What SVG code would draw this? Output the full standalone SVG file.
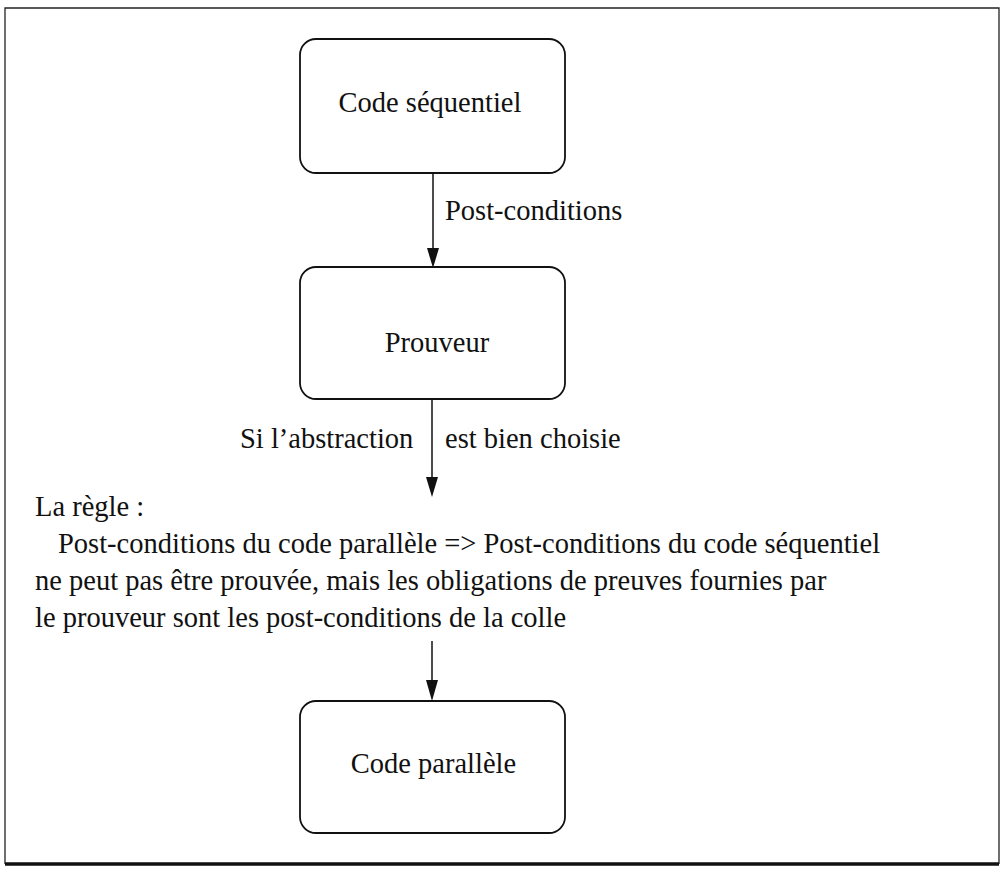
<svg xmlns="http://www.w3.org/2000/svg" width="1001" height="869" viewBox="0 0 1001 869">
<defs>
<style>
.t{font-family:"Liberation Serif","Times New Roman",serif;font-size:28.5px;fill:#111}
.box{fill:#fff;stroke:#111;stroke-width:1.8}
.con{stroke:#111;stroke-width:1.5;fill:none}
.head{fill:#111}
</style>
</defs>
<rect x="0" y="0" width="1001" height="869" fill="#fff"/>
<g id="frame">
<path d="M5,864 L5,8 L999,8 L999,864" fill="none" stroke="#222" stroke-width="1.3"/>
<line x1="5" y1="864" x2="999" y2="864" stroke="#111" stroke-width="3.5"/>
</g>
<g id="connectors">
<line class="con" x1="433" y1="173" x2="433" y2="248"/>
<path class="head" d="M427,248 L439,248 L433,268 Z"/>
<line class="con" x1="432" y1="400" x2="432" y2="477"/>
<path class="head" d="M426,477 L438,477 L432,497 Z"/>
<line class="con" x1="432" y1="641" x2="432" y2="681"/>
<path class="head" d="M426,680 L438,680 L432,701 Z"/>
<text class="t" x="445" y="220">Post-conditions</text>
<text class="t" x="240" y="448">Si l’abstraction</text>
<text class="t" x="445" y="448">est bien choisie</text>
</g>
<g id="node-code-sequentiel">
<rect class="box" x="300" y="39" width="265" height="134" rx="16"/>
<text class="t" x="430" y="112" text-anchor="middle">Code séquentiel</text>
</g>
<g id="node-prouveur">
<rect class="box" x="300" y="267" width="265" height="132" rx="16"/>
<text class="t" x="437" y="352" text-anchor="middle">Prouveur</text>
</g>
<g id="node-regle">
<text class="t" x="35" y="516">La règle :</text>
<text class="t" x="58" y="553">Post-conditions du code parallèle =&gt; Post-conditions du code séquentiel</text>
<text class="t" x="35" y="590">ne peut pas être prouvée, mais les obligations de preuves fournies par</text>
<text class="t" x="35" y="627">le prouveur sont les post-conditions de la colle</text>
</g>
<g id="node-code-parallele">
<rect class="box" x="300" y="701" width="265" height="132" rx="16"/>
<text class="t" x="433.5" y="773" text-anchor="middle">Code parallèle</text>
</g>
</svg>
